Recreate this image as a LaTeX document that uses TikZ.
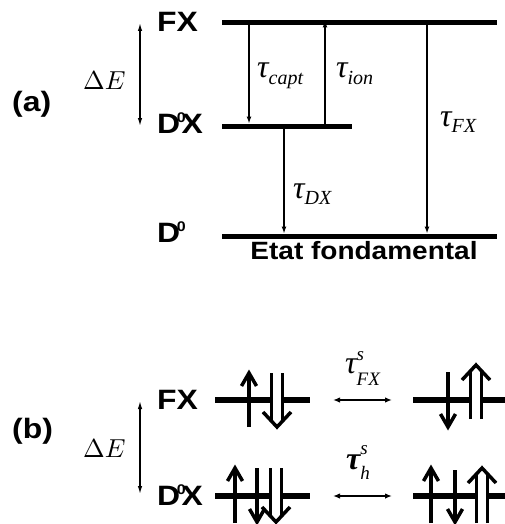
\documentclass[tikz,border=0pt]{standalone}
\usepackage{fontspec}
\setmainfont{Liberation Serif}
\newfontfamily\lsans{Liberation Sans}
\usetikzlibrary{arrows.meta}
\newcommand\biglbl[1]{\scalebox{1.14}[1]{\fontsize{28}{32}\selectfont\lsans\bfseries #1}}
\newcommand\etatlbl[1]{\scalebox{1.12}[1]{\fontsize{25}{30}\selectfont\lsans\bfseries #1}}
\newcommand\supz{\raisebox{11pt}{\fontsize{14}{16}\selectfont 0}}
\newcommand\tsub[1]{{\fontsize{32}{36}\selectfont\itshape τ}\raisebox{-6pt}{\fontsize{20}{22}\selectfont\itshape #1}}
\newcommand\tss[5]{{\fontsize{32}{36}\selectfont #1τ}\rlap{\raisebox{#4}{\fontsize{19}{21}\selectfont\itshape #2}}\raisebox{-#5}{\fontsize{19}{21}\selectfont\itshape #3}}
\newcommand\dEl{\scalebox{2.6}{$\Delta E$}}
\begin{document}
\begin{tikzpicture}[x=1pt,y=-1pt,
  lvl/.style={line width=5pt},
  lvlb/.style={line width=6pt},
  trans/.style={line width=1.3pt,-{Latex[length=7pt,width=5pt]}},
  dbl/.style={line width=1.3pt,{Latex[length=8pt,width=4.5pt]}-{Latex[length=8pt,width=4.5pt]}},
  hdbl/.style={line width=1.6pt,{Latex[length=7pt,width=5.5pt]}-{Latex[length=7pt,width=5.5pt]}},
  spin/.style={line width=3.5pt,line join=miter,line cap=butt},
  txt/.style={inner sep=0pt,anchor=base west}]
\useasboundingbox (0,0) rectangle (505,524);
% ---------- spin arrow helpers
\newcommand\spinup[3]{\draw[spin] (#1,#2) -- (#1,#3);
  \draw[spin] (#1-7.5,#3+13) -- (#1,#3) -- (#1+7.5,#3+13);}
\newcommand\spindown[3]{\draw[spin] (#1,#2) -- (#1,#3);
  \draw[spin] (#1-7.5,#3-13) -- (#1,#3) -- (#1+7.5,#3-13);}
\newcommand\dbldown[3]{\fill[white] (#1-5.5,#2) rectangle (#1+5.5,#3-6);
  \draw[spin] (#1-5.5,#2) -- (#1-5.5,#3-6);
  \draw[spin] (#1+5.5,#2) -- (#1+5.5,#3-6);
  \draw[spin] (#1-14,#3-15) -- (#1,#3) -- (#1+14,#3-15);}
\newcommand\dblup[3]{\fill[white] (#1-5.5,#2) rectangle (#1+5.5,#3+6);
  \draw[spin] (#1-5.5,#2) -- (#1-5.5,#3+6);
  \draw[spin] (#1+5.5,#2) -- (#1+5.5,#3+6);
  \draw[spin] (#1-14,#3+15) -- (#1,#3) -- (#1+14,#3+15);}
% ================= (a)
\coordinate (fxL) at (222,23);  \coordinate (fxR) at (497,23);
\coordinate (dxL) at (222,126); \coordinate (dxR) at (352,126);
\coordinate (d0L) at (222,236); \coordinate (d0R) at (497,236);
\draw[lvl] (fxL) -- (fxR);
\draw[lvl] (dxL) -- (dxR);
\draw[lvl] (d0L) -- (d0R);
\coordinate (capt1) at (249,25.5); \coordinate (capt2) at (249,123.5);
\coordinate (ion1) at (325,123.5); \coordinate (ion2) at (325,20.5);
\coordinate (dx1) at (284,128.5);  \coordinate (dx2) at (284,233.5);
\coordinate (tfx1) at (427,25.5);  \coordinate (tfx2) at (427,233.5);
\draw[trans] (capt1) -- (capt2);
\draw[trans] (ion1) -- (ion2);
\draw[trans] (dx1) -- (dx2);
\draw[trans] (tfx1) -- (tfx2);
\coordinate (dEa1) at (140,23); \coordinate (dEa2) at (140,126);
\draw[dbl] (dEa1) -- (dEa2);
\node[txt] (la) at (12,111) {\biglbl{(a)}};
\node[txt] (dEa) at (83,90) {\dEl};
\node[txt] (fxa) at (157,32) {\biglbl{FX}};
\node[txt] (dxa) at (157,133) {\biglbl{D\kern-3pt\supz\kern-3.5pt X}};
\node[txt] (d0a) at (157,242) {\biglbl{D\kern-3pt\supz}};
\node[inner sep=0pt,anchor=base] (etat) at (364,259) {\etatlbl{Etat fondamental}};
\node[txt] (tcapt) at (257,78) {\tsub{capt}};
\node[txt] (tion) at (336,78) {\tsub{ion}};
\node[txt] (tfx) at (440,126) {\tsub{FX}};
\node[txt] (tdx) at (293,198) {\tsub{DX}};
% ================= (b)
\coordinate (bfxL1) at (215,400); \coordinate (bfxL2) at (310,400);
\coordinate (bfxR1) at (413,400); \coordinate (bfxR2) at (505,400);
\coordinate (bdxL1) at (215,496); \coordinate (bdxL2) at (310,496);
\coordinate (bdxR1) at (413,496); \coordinate (bdxR2) at (505,496);
\draw[lvlb] (bfxL1) -- (bfxL2);
\draw[lvlb] (bfxR1) -- (bfxR2);
\draw[lvlb] (bdxL1) -- (bdxL2);
\draw[lvlb] (bdxR1) -- (bdxR2);
\coordinate (h1a) at (333,400); \coordinate (h1b) at (392,400);
\coordinate (h2a) at (333,496); \coordinate (h2b) at (392,496);
\draw[hdbl] (h1a) -- (h1b);
\draw[hdbl] (h2a) -- (h2b);
\coordinate (dEb1) at (140,401); \coordinate (dEb2) at (140,494);
\draw[dbl] (dEb1) -- (dEb2);
\node[txt] (lb) at (12,438) {\biglbl{(b)}};
\node[txt] (dEb) at (83,457) {\dEl};
\node[txt] (fxb) at (157,409) {\biglbl{FX}};
\node[txt] (dxb) at (157,505) {\biglbl{D\kern-3pt\supz\kern-3.5pt X}};
\node[txt] (tsfx) at (345,373) {\tss{\itshape}{s}{FX}{13pt}{12pt}};
\node[txt] (tsh) at (346,469) {\tss{\bfseries\itshape}{s}{h}{15pt}{10pt}};
% spins FX
\spinup{249}{427}{373}
\dbldown{277}{373}{427}
\spindown{448}{372}{427}
\dblup{476}{419}{365}
% spins D0X
\spinup{235}{523}{468}
\spindown{257}{468}{522}
\dbldown{276}{468}{522}
\spinup{431}{523}{468}
\spindown{455}{470}{522}
\dblup{482}{523}{468}
\end{tikzpicture}
\end{document}
